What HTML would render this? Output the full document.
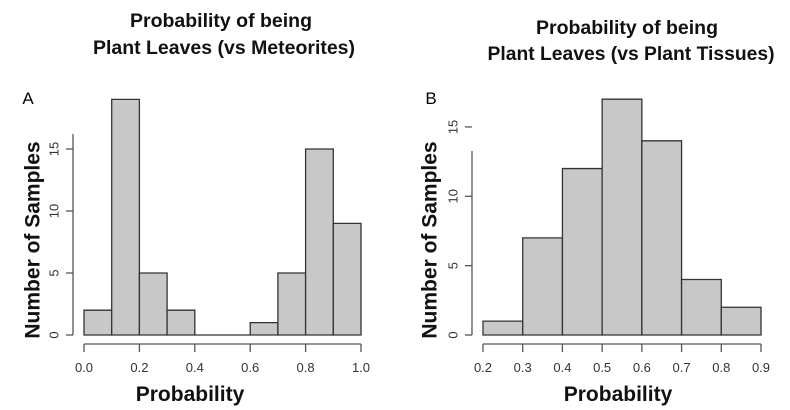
<!DOCTYPE html>
<html><head><meta charset="utf-8"><style>
html,body{margin:0;padding:0;background:#fff}
svg{display:block}
text{font-family:"Liberation Sans",Arial,sans-serif}
.t{font-family:"Liberation Sans Narrow","Liberation Sans",sans-serif;font-weight:bold;font-size:19px;fill:#111}
</style></head><body>
<svg id="s" width="790" height="410" viewBox="0 0 790 410">
<text class="t" x="221" y="27" text-anchor="middle" textLength="182" lengthAdjust="spacingAndGlyphs">Probability of being</text>
<text class="t" x="224" y="54" text-anchor="middle" textLength="262" lengthAdjust="spacingAndGlyphs">Plant Leaves (vs Meteorites)</text>
<text class="t" x="627" y="34" text-anchor="middle" textLength="182" lengthAdjust="spacingAndGlyphs">Probability of being</text>
<text class="t" x="631" y="60" text-anchor="middle" textLength="287" lengthAdjust="spacingAndGlyphs">Plant Leaves (vs Plant Tissues)</text>
<text x="28" y="104" font-size="17" text-anchor="middle">A</text>
<text x="431" y="104" font-size="17" text-anchor="middle">B</text>
<g id="ga"></g>
<g id="gb"></g>
</svg>
<script>
const binsA=[0,0.1,0.2,0.3,0.4,0.5,0.6,0.7,0.8,0.9,1.0];
const countsA=[2,19,5,2,0,0,1,5,15,9];
const xTicksA=["0.0","0.2","0.4","0.6","0.8","1.0"];
const binsB=[0.2,0.3,0.4,0.5,0.6,0.7,0.8,0.9];
const countsB=[1,7,12,17,14,4,2];
const xTicksB=["0.2","0.3","0.4","0.5","0.6","0.7","0.8","0.9"];
const yTicks=[0,5,10,15];
const NS="http://www.w3.org/2000/svg";
function mk(p,tag,a){const e=document.createElementNS(NS,tag);for(const k in a)e.setAttribute(k,a[k]);p.appendChild(e);return e;}
function draw(g,bins,counts,xt,c){
  const x=v=>c.x0+(v-bins[0])/(bins[bins.length-1]-bins[0])*(c.x1-c.x0);
  const y=v=>c.base-v*c.py;
  for(let i=0;i<counts.length;i++){
    const xa0=x(bins[i]),xa1=x(bins[i+1]),yt=y(counts[i]);
    const r=mk(g,'path',{d:`M${xa0},${c.base}L${xa0},${yt}L${xa1},${yt}L${xa1},${c.base}Z`,fill:'#c8c8c8',stroke:'#333','stroke-width':1.3});
    
    
  }
  const ya=mk(g,'line',{x1:c.ax,x2:c.ax,y1:c.base,y2:c.ytop,stroke:'#555','stroke-width':1.3});
  
  
  yTicks.forEach(t=>{
    mk(g,'line',{x1:c.ax-7,x2:c.ax,y1:y(t),y2:y(t),stroke:'#555','stroke-width':1.3});
    const tx=mk(g,'text',{x:c.ax-18,y:y(t),'font-size':13,fill:'#333','text-anchor':'middle',transform:`rotate(-90 ${c.ax-18} ${y(t)})`,'dominant-baseline':'middle'});
    tx.textContent=t;
    
    
  });
  const xa=mk(g,'line',{x1:c.x0,x2:c.x1,y1:344,y2:344,stroke:'#555','stroke-width':1.3});
  
  
  xt.forEach(s=>{
    const v=parseFloat(s);
    mk(g,'line',{x1:x(v),x2:x(v),y1:344,y2:352,stroke:'#555','stroke-width':1.3});
    const tx=mk(g,'text',{x:x(v),y:372,'font-size':13,fill:'#333','text-anchor':'middle'});
    tx.textContent=s;
    
    
  });
  const xl=mk(g,'text',{x:c.xl,y:401,'font-size':21,'font-weight':'bold','text-anchor':'middle',fill:'#111'});
  xl.textContent='Probability';
  
  
  const yl=mk(g,'text',{x:c.yl,y:240,'font-size':21,'font-weight':'bold','text-anchor':'middle',fill:'#111',transform:`rotate(-90 ${c.yl} 240)`,'dominant-baseline':'middle'});
  yl.textContent='Number of Samples';
  
  
}
draw(document.getElementById('ga'),binsA,countsA,xTicksA,{x0:84,x1:361,base:335,py:12.4,ax:73,ytop:134,xl:190,yl:34});
draw(document.getElementById('gb'),binsB,countsB,xTicksB,{x0:483,x1:761,base:335,py:13.87,ax:472,ytop:151,xl:618,yl:431});
</script>
</body></html>
